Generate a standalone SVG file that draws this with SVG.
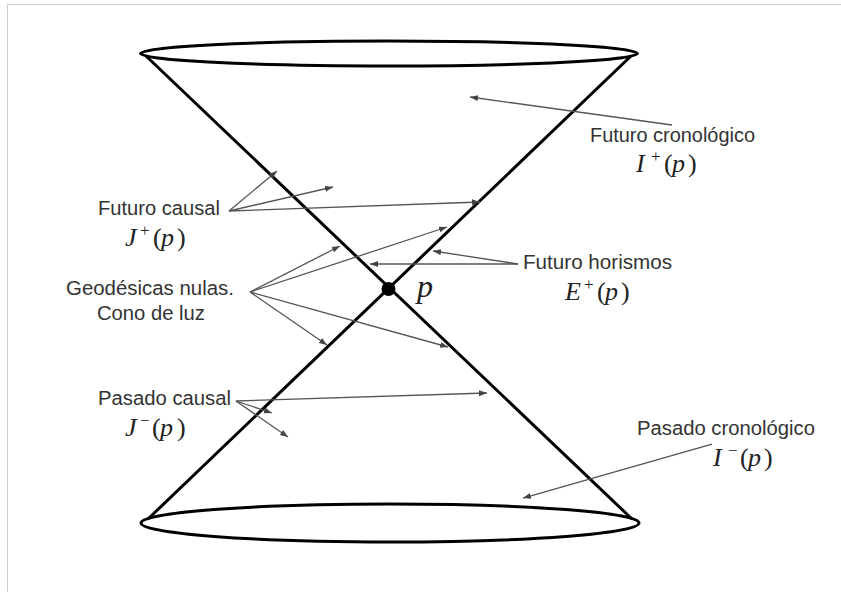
<svg xmlns="http://www.w3.org/2000/svg" width="841" height="592" viewBox="0 0 841 592">
<defs>
<marker id="ah" markerUnits="userSpaceOnUse" markerWidth="9" markerHeight="7" refX="8" refY="3" orient="auto">
<path d="M0,0 L8,3 L0,6 z" fill="#444"/>
</marker>
<style>
.lbl{font-family:"Liberation Sans",Arial,sans-serif;font-size:20px;fill:#333}
.math{font-family:"Liberation Serif","Times New Roman",serif;font-size:26px;fill:#222}
.it{font-style:italic}
.sup{font-size:17px}
.cone{fill:none;stroke:#000;stroke-width:3}
.arr{fill:none;stroke:#555;stroke-width:1.3;marker-end:url(#ah)}
.frame{fill:none;stroke:#ccc;stroke-width:1}
</style>
</defs>
<rect width="841" height="592" fill="#fff"/>
<path class="frame" d="M7.5,592 V4.5 H841"/>

<g id="cone">
<ellipse class="cone" cx="389" cy="53.5" rx="248.5" ry="12.5"/>
<ellipse class="cone" cx="390" cy="523" rx="249" ry="19"/>
<line class="cone" x1="146" y1="56" x2="632" y2="519"/>
<line class="cone" x1="631" y1="56" x2="148" y2="519"/>
</g>

<g id="point-p">
<circle cx="388.5" cy="289" r="7" fill="#000"/>
<text class="math it" x="417" y="297" style="font-size:32px">p</text>
</g>

<g id="connectors">
<line class="arr" x1="672" y1="125" x2="470" y2="97"/>
<line class="arr" x1="229" y1="211" x2="277" y2="171"/>
<line class="arr" x1="229" y1="211" x2="333" y2="187"/>
<line class="arr" x1="229" y1="211" x2="480" y2="202"/>
<line class="arr" x1="250" y1="292" x2="340" y2="246"/>
<line class="arr" x1="250" y1="292" x2="447" y2="227"/>
<line class="arr" x1="250" y1="292" x2="327" y2="345"/>
<line class="arr" x1="250" y1="292" x2="448" y2="347"/>
<line class="arr" x1="518" y1="264" x2="433" y2="251"/>
<line class="arr" x1="518" y1="264" x2="370" y2="264"/>
<line class="arr" x1="236" y1="401" x2="487" y2="393"/>
<line class="arr" x1="236" y1="401" x2="272" y2="413"/>
<line class="arr" x1="236" y1="401" x2="288" y2="437"/>
<line class="arr" x1="712" y1="444" x2="523" y2="498"/>
</g>

<g id="futuro-cronologico">
<text class="lbl" x="590" y="142" textLength="165" lengthAdjust="spacingAndGlyphs">Futuro cronológico</text>
<text class="math"><tspan class="it" x="636" y="172">I</tspan><tspan class="sup" x="651" y="162">+</tspan><tspan x="664" y="172">(</tspan><tspan class="it" x="672" y="172">p</tspan><tspan x="688" y="172">)</tspan></text>
</g>

<g id="futuro-causal">
<text class="lbl" x="98" y="215" textLength="122" lengthAdjust="spacingAndGlyphs">Futuro causal</text>
<text class="math"><tspan class="it" x="125" y="246">J</tspan><tspan class="sup" x="140" y="236">+</tspan><tspan x="153" y="246">(</tspan><tspan class="it" x="161" y="246">p</tspan><tspan x="177" y="246">)</tspan></text>
</g>

<g id="geodesicas">
<text class="lbl" x="66" y="295" textLength="168" lengthAdjust="spacingAndGlyphs">Geodésicas nulas.</text>
<text class="lbl" x="97" y="320" textLength="108" lengthAdjust="spacingAndGlyphs">Cono de luz</text>
</g>

<g id="futuro-horismos">
<text class="lbl" x="523" y="269" textLength="149" lengthAdjust="spacingAndGlyphs">Futuro horismos</text>
<text class="math"><tspan class="it" x="565" y="300">E</tspan><tspan class="sup" x="584" y="290">+</tspan><tspan x="597" y="300">(</tspan><tspan class="it" x="605" y="300">p</tspan><tspan x="621" y="300">)</tspan></text>
</g>

<g id="pasado-causal">
<text class="lbl" x="98" y="405" textLength="133" lengthAdjust="spacingAndGlyphs">Pasado causal</text>
<text class="math"><tspan class="it" x="125" y="436">J</tspan><tspan class="sup" x="140" y="426">−</tspan><tspan x="152" y="436">(</tspan><tspan class="it" x="160" y="436">p</tspan><tspan x="177" y="436">)</tspan></text>
</g>

<g id="pasado-cronologico">
<text class="lbl" x="637" y="435" textLength="178" lengthAdjust="spacingAndGlyphs">Pasado cronológico</text>
<text class="math"><tspan class="it" x="713" y="466">I</tspan><tspan class="sup" x="728" y="456">−</tspan><tspan x="740" y="466">(</tspan><tspan class="it" x="748" y="466">p</tspan><tspan x="764" y="466">)</tspan></text>
</g>
</svg>
